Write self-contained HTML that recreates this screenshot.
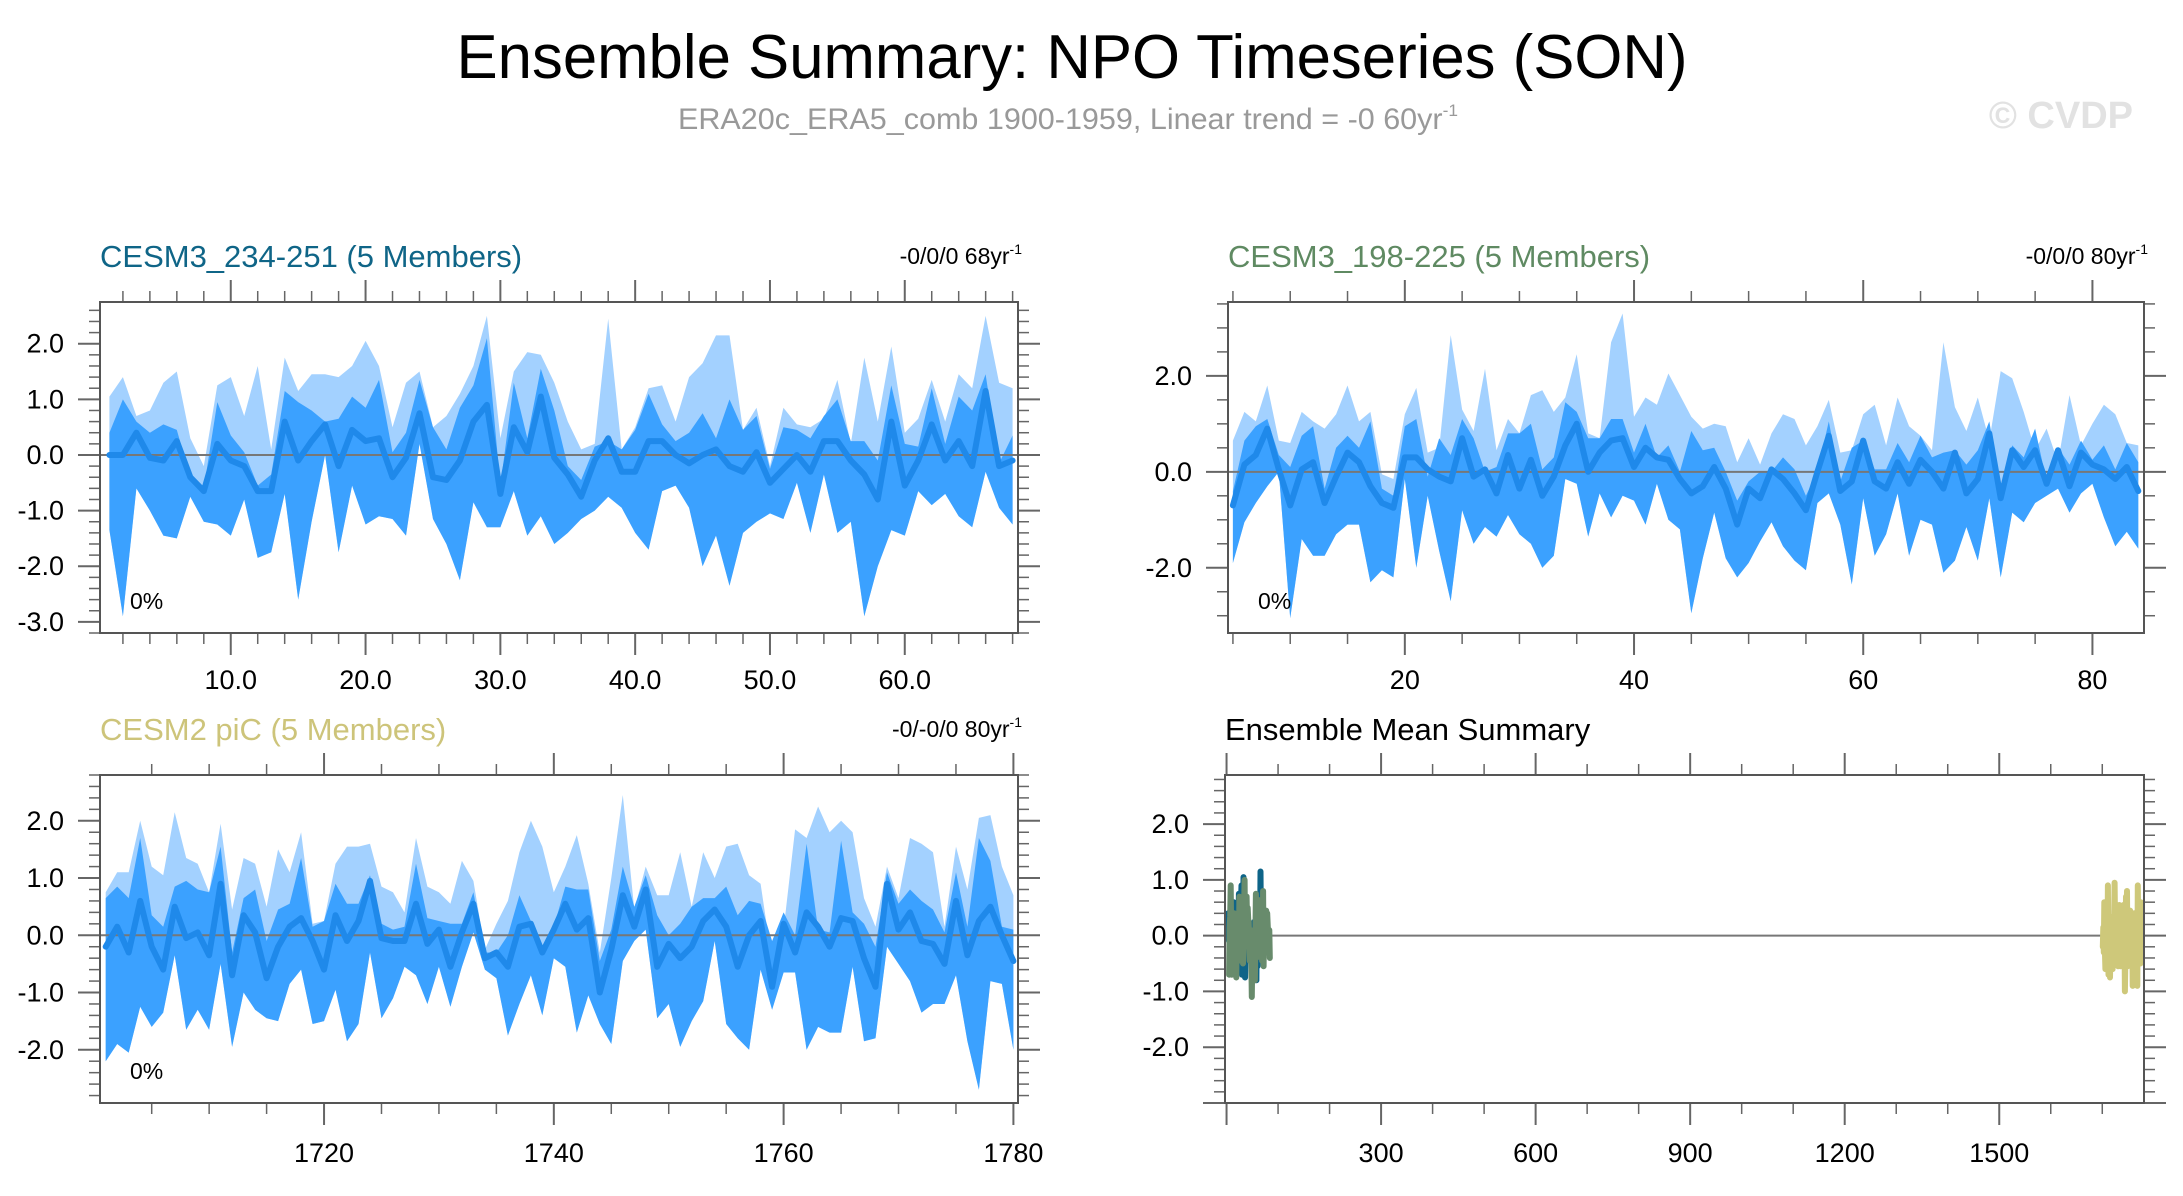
<!DOCTYPE html>
<html><head><meta charset="utf-8">
<style>
html,body{margin:0;padding:0;background:#fff;}
svg{display:block;font-family:"Liberation Sans",Arial,sans-serif;}
</style></head>
<body>
<svg id="chart" width="2183" height="1196" viewBox="0 0 2183 1196">
<text x="1072" y="78" font-size="62" text-anchor="middle" textLength="1231" lengthAdjust="spacingAndGlyphs">Ensemble Summary: NPO Timeseries (SON)</text>
<text x="678" y="129" font-size="30" fill="#999" textLength="780" lengthAdjust="spacingAndGlyphs">ERA20c_ERA5_comb 1900-1959, Linear trend = -0 60yr<tspan font-size="17" dy="-13">-1</tspan></text>
<text x="2133" y="128" font-size="38" font-weight="bold" fill="#e2e2e2" text-anchor="end">© CVDP</text>
<g id="panels"></g>
</svg>
<script>
// ---- Panel 1: CESM3_234-251 ----
const p1Years = [];
for (let i = 1; i <= 68; i++) p1Years.push(i);
const p1Mean = [0.0,0.0,0.4,-0.05,-0.1,0.25,-0.4,-0.65,0.2,-0.1,-0.2,-0.65,-0.65,0.6,-0.1,0.25,0.55,-0.2,0.45,0.25,0.3,-0.4,-0.05,0.75,-0.4,-0.45,-0.1,0.6,0.9,-0.7,0.5,0.05,1.05,-0.05,-0.35,-0.75,-0.1,0.3,-0.3,-0.3,0.25,0.25,0.0,-0.15,0.0,0.1,-0.2,-0.3,0.05,-0.5,-0.25,0.0,-0.3,0.25,0.25,-0.1,-0.35,-0.8,0.6,-0.55,-0.1,0.55,-0.1,0.25,-0.2,1.15,-0.2,-0.1];
const p1Max = [1.05,1.4,0.7,0.8,1.3,1.5,0.3,-0.2,1.25,1.4,0.7,1.6,0.1,1.75,1.15,1.45,1.45,1.4,1.6,2.05,1.6,0.5,1.3,1.5,0.5,0.7,1.1,1.6,2.5,0.3,1.5,1.85,1.8,1.3,0.6,0.1,0.2,2.45,0.1,0.5,1.2,1.25,0.6,1.4,1.65,2.15,2.15,0.45,0.85,-0.2,0.85,0.55,0.5,0.65,1.35,0.2,1.75,0.6,1.95,0.4,0.65,1.35,0.6,1.45,1.2,2.5,1.3,1.2];
const p1Upper = [0.4,1.0,0.6,0.4,0.55,0.45,-0.4,-0.6,0.95,0.35,0.05,-0.55,-0.35,1.15,0.95,0.8,0.6,0.65,1.05,0.85,1.35,0.05,0.4,1.35,0.5,0.1,0.85,1.25,2.1,-0.55,1.3,0.3,1.55,0.8,-0.2,-0.45,0.15,0.25,0.1,0.45,1.1,0.55,0.25,0.4,0.75,0.3,1.0,0.45,0.7,-0.25,0.5,0.45,0.3,0.7,1.0,0.25,0.25,-0.1,1.25,0.2,0.15,1.2,0.2,1.05,0.8,1.45,-0.15,0.35];
const p1Lower = [-1.35,-2.9,-0.6,-1.0,-1.45,-1.5,-0.75,-1.2,-1.25,-1.45,-0.8,-1.85,-1.75,-0.7,-2.6,-1.2,0.0,-1.75,-0.55,-1.25,-1.1,-1.15,-1.45,0.2,-1.15,-1.6,-2.25,-0.85,-1.3,-1.3,-0.65,-1.45,-1.1,-1.6,-1.4,-1.15,-1.0,-0.75,-0.95,-1.4,-1.7,-0.65,-0.55,-0.95,-2.0,-1.45,-2.35,-1.4,-1.2,-1.05,-1.15,-0.5,-1.4,-0.35,-1.4,-1.2,-2.9,-2.0,-1.35,-1.45,-0.65,-0.9,-0.7,-1.1,-1.3,-0.3,-0.95,-1.25];
const p1XTicks = [10,20,30,40,50,60];
const p1XLabels = ["10.0","20.0","30.0","40.0","50.0","60.0"];
const p1YTicks = [2,1,0,-1,-2,-3];
const p1YLabels = ["2.0","1.0","0.0","-1.0","-2.0","-3.0"];

// ---- Panel 2: CESM3_198-225 ----
const p2Years = [];
for (let i = 5; i <= 84; i++) p2Years.push(i);
const p2Mean = [-0.7,0.15,0.35,0.9,0.05,-0.7,0.05,0.2,-0.65,-0.1,0.4,0.2,-0.3,-0.65,-0.75,0.3,0.3,0.05,-0.1,-0.2,0.7,-0.1,0.05,-0.45,0.35,-0.35,0.25,-0.5,-0.1,0.55,1.0,0.0,0.4,0.65,0.7,0.1,0.5,0.3,0.25,-0.15,-0.45,-0.3,0.1,-0.35,-1.1,-0.35,-0.55,0.05,-0.15,-0.45,-0.8,0.0,0.75,-0.4,-0.2,0.65,-0.2,-0.35,0.2,-0.25,0.25,0.0,-0.35,0.4,-0.45,-0.15,0.8,-0.55,0.45,0.1,0.45,-0.25,0.45,-0.3,0.4,0.15,0.05,-0.15,0.1,-0.4];
const p2Max = [0.65,1.25,1.05,1.8,0.65,0.6,1.25,1.05,0.9,1.2,1.8,1.05,1.25,-0.05,-0.15,1.2,1.75,0.4,0.5,2.85,1.3,0.85,2.15,0.45,1.1,0.8,1.6,1.7,1.25,1.55,2.45,0.8,0.7,2.7,3.3,1.15,1.55,1.4,2.05,1.6,1.15,0.9,1.0,0.95,0.2,0.7,0.15,0.8,1.2,1.1,0.55,0.95,1.5,0.4,0.45,1.2,1.4,0.55,1.55,0.95,0.75,0.45,2.7,1.35,0.85,1.55,0.65,2.1,1.95,1.25,0.45,0.9,0.2,1.6,0.55,1.0,1.4,1.2,0.6,0.55];
const p2Upper = [-0.4,0.65,0.95,1.1,0.35,0.1,0.75,0.95,-0.35,0.5,0.75,0.5,1.05,-0.35,-0.5,0.95,1.1,-0.1,0.7,0.35,1.1,0.7,0.0,0.1,0.8,0.8,1.0,0.05,0.3,1.45,1.25,0.7,0.7,1.1,1.1,0.4,1.0,0.3,0.55,0.0,0.85,0.45,0.5,0.0,-0.6,-0.2,0.0,0.0,0.3,0.05,-0.5,0.0,1.05,-0.2,0.5,0.65,0.05,0.05,0.6,0.2,0.75,0.3,0.4,0.45,0.15,0.45,1.05,-0.35,0.55,0.3,0.9,-0.2,0.5,0.15,0.65,0.25,0.55,0.05,0.6,0.2];
const p2Lower = [-1.9,-1.05,-0.65,-0.3,0.0,-3.05,-1.4,-1.75,-1.75,-1.3,-1.1,-1.1,-2.3,-2.05,-2.2,-0.15,-2.0,-0.5,-1.65,-2.7,-0.8,-1.5,-1.15,-1.35,-0.9,-1.3,-1.5,-2.0,-1.75,-0.15,-0.25,-1.35,-0.45,-0.95,-0.5,-0.6,-1.1,-0.25,-1.0,-1.2,-2.95,-1.8,-0.85,-1.8,-2.2,-1.9,-1.45,-1.05,-1.55,-1.85,-2.05,-0.65,-0.45,-1.1,-2.35,-0.55,-1.75,-1.3,-0.45,-1.75,-1.0,-1.1,-2.1,-1.85,-1.15,-1.85,-0.55,-2.2,-0.85,-1.05,-0.65,-0.5,-0.35,-0.85,-0.45,-0.25,-0.95,-1.55,-1.25,-1.6];
const p2XTicks = [20,40,60,80];
const p2XLabels = ["20","40","60","80"];
const p2YTicks = [2,0,-2];
const p2YLabels = ["2.0","0.0","-2.0"];

// ---- Panel 3: CESM2 piC ----
const p3Years = [];
for (let i = 1701; i <= 1780; i++) p3Years.push(i);
const p3Mean = [-0.2,0.15,-0.3,0.6,-0.2,-0.6,0.5,-0.05,0.05,-0.35,0.9,-0.7,0.35,0.05,-0.75,-0.2,0.15,0.3,-0.1,-0.6,0.35,-0.1,0.25,0.95,-0.05,-0.1,-0.1,0.55,-0.15,0.1,-0.55,0.05,0.55,-0.4,-0.3,-0.55,0.15,0.2,-0.3,0.1,0.55,0.1,0.3,-1.0,-0.25,0.7,0.15,0.8,-0.55,-0.15,-0.4,-0.2,0.25,0.45,0.15,-0.55,0.0,0.25,-0.9,0.2,-0.3,0.4,0.15,-0.2,0.3,0.25,-0.4,-0.9,0.9,0.1,0.4,-0.1,-0.15,-0.5,0.6,-0.35,0.25,0.5,0.0,-0.45];
const p3Max = [0.75,1.1,1.1,2.0,1.2,1.05,2.15,1.35,1.25,0.75,1.95,0.45,1.35,1.25,0.5,1.5,1.1,1.8,0.2,0.25,1.25,1.55,1.55,1.6,0.85,0.75,0.4,1.7,0.85,0.75,0.55,1.3,0.95,-0.25,0.2,0.6,1.45,2.0,1.55,0.75,1.2,1.75,0.9,-0.3,1.0,2.45,0.45,1.2,0.7,0.7,1.45,0.5,1.45,1.0,1.55,1.6,1.05,0.9,-0.45,0.1,1.85,1.7,2.25,1.8,2.0,1.8,0.65,0.15,1.2,0.65,1.7,1.6,1.45,0.15,1.55,0.8,2.05,2.1,1.2,0.7];
const p3Upper = [0.65,0.85,0.65,1.7,0.35,0.15,0.85,0.95,0.8,0.75,1.55,-0.3,0.65,0.8,-0.1,0.45,0.55,1.35,0.15,0.25,0.9,0.55,0.55,1.05,0.2,0.1,0.15,1.25,0.3,0.25,0.2,0.2,0.75,-0.3,-0.3,0.0,0.7,0.25,-0.2,0.15,0.85,0.8,0.8,-0.45,0.1,1.2,0.5,1.05,0.35,0.0,0.2,0.5,0.65,0.65,0.85,0.35,0.6,0.55,-0.1,0.4,0.0,1.6,0.1,0.05,1.65,0.4,0.2,-0.2,1.1,0.55,0.8,0.6,0.45,0.05,1.1,0.15,1.7,1.3,0.15,0.1];
const p3Lower = [-2.2,-1.9,-2.05,-1.25,-1.6,-1.35,-0.35,-1.65,-1.3,-1.65,-0.5,-1.95,-1.0,-1.3,-1.45,-1.5,-0.85,-0.6,-1.55,-1.5,-0.95,-1.85,-1.55,-0.3,-1.45,-1.1,-0.55,-0.7,-1.2,-0.55,-1.25,-0.55,0.05,-0.6,-0.75,-1.75,-1.2,-0.7,-1.4,-0.4,-0.55,-1.7,-1.05,-1.55,-1.9,-0.45,-0.1,0.1,-1.45,-1.2,-1.95,-1.5,-1.15,-0.1,-1.55,-1.8,-2.0,-0.6,-1.3,-0.65,-0.65,-2.0,-1.6,-1.7,-1.7,-0.55,-1.85,-1.8,-0.2,-0.5,-0.8,-1.35,-1.2,-1.2,-0.7,-1.85,-2.7,-0.8,-0.85,-2.0];
const p3XTicks = [1720,1740,1760,1780];
const p3XLabels = ["1720","1740","1760","1780"];
const p3YTicks = [2,1,0,-1,-2];
const p3YLabels = ["2.0","1.0","0.0","-1.0","-2.0"];

// ---- Panel 4: ensemble means ----
const p4XTicks = [300,600,900,1200,1500];
const p4XLabels = ["300","600","900","1200","1500"];
const p4YTicks = [2,1,0,-1,-2];
const p4YLabels = ["2.0","1.0","0.0","-1.0","-2.0"];

const NS = "http://www.w3.org/2000/svg";
const root = document.getElementById("panels");
function mk(tag, attrs, parent) {
  const e = document.createElementNS(NS, tag);
  for (const k in attrs) e.setAttribute(k, attrs[k]);
  (parent || root).appendChild(e);
  return e;
}

function drawPanel(cfg) {
  const g = mk("g", {});
  
  
  const {x0, x1, y0, y1, xmin, xmax, ymin, ymax} = cfg;
  const sx = v => x0 + (v - xmin) / (xmax - xmin) * (x1 - x0);
  const sy = v => y1 - (v - ymin) / (ymax - ymin) * (y1 - y0);
  cfg.sx = sx; cfg.sy = sy;

  const t = mk("text", {x: x0, y: y0 - 35, "font-size": 31, fill: cfg.titleColor}, g);
  t.textContent = cfg.title;
  
  
  if (cfg.trend) {
    const tr = mk("text", {x: x1 + 4, y: y0 - 38, "font-size": 23, "text-anchor": "end"}, g);
    tr.innerHTML = cfg.trend + 'yr<tspan font-size="14" dy="-10">-1</tspan>';
    
    
  }

  const tk = mk("g", {stroke: "#666"}, g);
  
  
  for (let v = Math.ceil(xmin / cfg.xMinor) * cfg.xMinor; v <= xmax + 1e-9; v += cfg.xMinor) {
    const isMaj = Math.abs(v / cfg.xMajor - Math.round(v / cfg.xMajor)) < 1e-6;
    const len = isMaj ? 22 : 11;
    const X = sx(v);
    mk("line", {x1: X, x2: X, y1: y0, y2: y0 - len, "stroke-width": isMaj ? 2 : 1.5}, tk);
    mk("line", {x1: X, x2: X, y1: y1, y2: y1 + len, "stroke-width": isMaj ? 2 : 1.5}, tk);
  }
  for (let v = Math.ceil(ymin / cfg.yMinor) * cfg.yMinor; v <= ymax + 1e-9; v += cfg.yMinor) {
    const isMaj = Math.abs(v / cfg.yMajor - Math.round(v / cfg.yMajor)) < 1e-6;
    const len = isMaj ? 22 : 11;
    const Y = sy(v);
    mk("line", {x1: x0, x2: x0 - len, y1: Y, y2: Y, "stroke-width": isMaj ? 2 : 1.5}, tk);
    mk("line", {x1: x1, x2: x1 + len, y1: Y, y2: Y, "stroke-width": isMaj ? 2 : 1.5}, tk);
  }
  cfg.xTicks.forEach((v, i) => {
    const l = mk("text", {x: sx(v), y: y1 + cfg.xLabOff, "font-size": 27, "text-anchor": "middle"}, g);
    l.textContent = cfg.xLabels[i];
    
    
  });
  cfg.yTicks.forEach((v, i) => {
    const l = mk("text", {x: x0 - 36, y: sy(v) + 9, "font-size": 27, "text-anchor": "end"}, g);
    l.textContent = cfg.yLabels[i];
    
    
  });

  const cid = "clip-" + cfg.name;
  const cp = mk("clipPath", {id: cid}, g);
  mk("rect", {x: x0, y: y0, width: x1 - x0, height: y1 - y0}, cp);
  const plot = mk("g", {"clip-path": "url(#" + cid + ")"}, g);
  cfg.plot = plot;

  if (cfg.years) {
    const xs = cfg.years;
    const poly = (top, bot) => {
      let d = "";
      xs.forEach((x, i) => { d += (i ? "L" : "M") + sx(x).toFixed(1) + "," + sy(top[i]).toFixed(1); });
      for (let i = xs.length - 1; i >= 0; i--) d += "L" + sx(xs[i]).toFixed(1) + "," + sy(bot[i]).toFixed(1);
      return d + "Z";
    };
    const outer = mk("path", {d: poly(cfg.max, cfg.lower), fill: "#a3d1ff"}, plot);
    
    
    const inner = mk("path", {d: poly(cfg.upper, cfg.lower), fill: "#3ba1ff"}, plot);
    
    
  }
  const zl = mk("line", {x1: x0, x2: x1, y1: sy(0), y2: sy(0), stroke: "#777", "stroke-width": 2}, plot);
  
  
  if (cfg.years) {
    let d = "";
    cfg.years.forEach((x, i) => { d += (i ? "L" : "M") + sx(x).toFixed(1) + "," + sy(cfg.mean[i]).toFixed(1); });
    const ml = mk("path", {d: d, fill: "none", stroke: "#1f89ea", "stroke-width": 6, "stroke-linejoin": "round", "stroke-linecap": "round"}, plot);
    
    
    const pc = mk("text", {x: x0 + 30, y: y1 - 24, "font-size": 23}, g);
    pc.textContent = "0%";
    
    
  }
  const box = mk("rect", {x: x0, y: y0, width: x1 - x0, height: y1 - y0, fill: "none", stroke: "#555", "stroke-width": 2}, g);
  
  
  return cfg;
}

drawPanel({name: "panel-cesm3-234-251", title: "CESM3_234-251 (5 Members)", titleColor: "#0f6587", trend: "-0/0/0 68",
  x0: 100, x1: 1018, y0: 302, y1: 633, xmin: 0.3, xmax: 68.4, ymin: -3.2, ymax: 2.75,
  xMajor: 10, xMinor: 2, yMajor: 1, yMinor: 0.2, xLabOff: 56,
  xTicks: p1XTicks, xLabels: p1XLabels, yTicks: p1YTicks, yLabels: p1YLabels,
  years: p1Years, mean: p1Mean, max: p1Max, upper: p1Upper, lower: p1Lower});
drawPanel({name: "panel-cesm3-198-225", title: "CESM3_198-225 (5 Members)", titleColor: "#5f8a62", trend: "-0/0/0 80",
  x0: 1228, x1: 2144, y0: 302, y1: 633, xmin: 4.57, xmax: 84.5, ymin: -3.36, ymax: 3.54,
  xMajor: 20, xMinor: 5, yMajor: 2, yMinor: 0.5, xLabOff: 56,
  xTicks: p2XTicks, xLabels: p2XLabels, yTicks: p2YTicks, yLabels: p2YLabels,
  years: p2Years, mean: p2Mean, max: p2Max, upper: p2Upper, lower: p2Lower});
drawPanel({name: "panel-cesm2-pic", title: "CESM2 piC (5 Members)", titleColor: "#cdc47a", trend: "-0/-0/0 80",
  x0: 100, x1: 1018, y0: 775, y1: 1103, xmin: 1700.5, xmax: 1780.4, ymin: -2.93, ymax: 2.8,
  xMajor: 20, xMinor: 5, yMajor: 1, yMinor: 0.2, xLabOff: 59,
  xTicks: p3XTicks, xLabels: p3XLabels, yTicks: p3YTicks, yLabels: p3YLabels,
  years: p3Years, mean: p3Mean, max: p3Max, upper: p3Upper, lower: p3Lower});
const p4 = drawPanel({name: "panel-ensemble-mean-summary", title: "Ensemble Mean Summary", titleColor: "#000",
  x0: 1225, x1: 2144, y0: 775, y1: 1103, xmin: -3, xmax: 1781, ymin: -3.0, ymax: 2.88,
  xMajor: 300, xMinor: 100, yMajor: 1, yMinor: 0.2, xLabOff: 59,
  xTicks: p4XTicks, xLabels: p4XLabels, yTicks: p4YTicks, yLabels: p4YLabels});
[[p1Years, p1Mean, "#0e6488", "summary-line-cesm3-234-251"],
 [p2Years, p2Mean, "#688b6c", "summary-line-cesm3-198-225"],
 [p3Years, p3Mean, "#cec87a", "summary-line-cesm2-pic"]].forEach(s => {
  let d = "";
  s[0].forEach((x, i) => { d += (i ? "L" : "M") + p4.sx(x).toFixed(1) + "," + p4.sy(s[1][i]).toFixed(1); });
  const l = mk("path", {d: d, fill: "none", stroke: s[2], "stroke-width": 6, "stroke-linejoin": "round", "stroke-linecap": "round"}, p4.plot);
  
  
});
</script>
</body></html>
